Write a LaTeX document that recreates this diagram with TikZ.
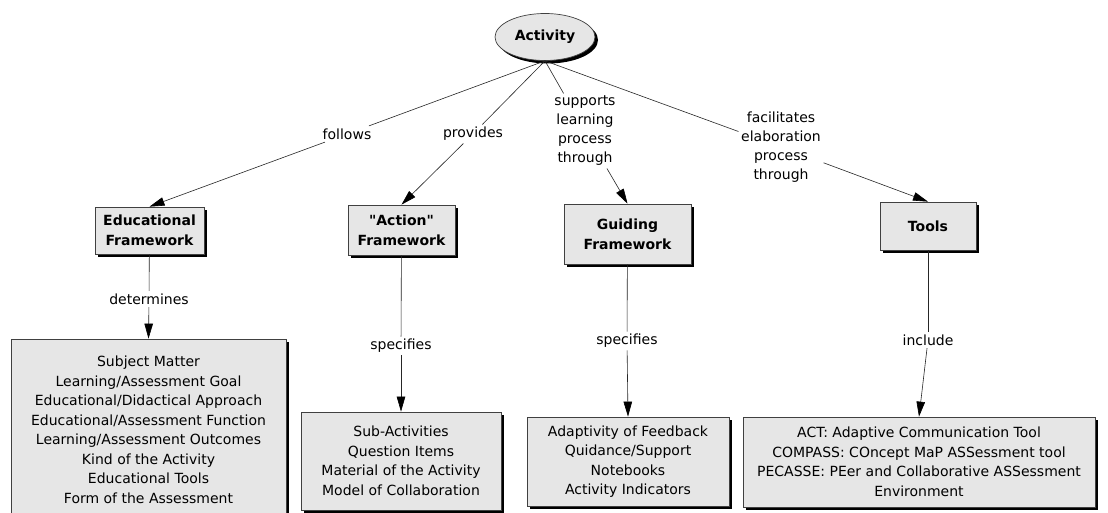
\documentclass[tikz,border=0pt]{standalone}
\usepackage{fontspec}
\setmainfont{DejaVu Sans}[Ligatures=TeXOff]
\usetikzlibrary{shadows,arrows.meta,shapes.geometric}
\definecolor{boxgray}{RGB}{230,230,230}
\begin{document}
\begin{tikzpicture}[x=1pt,y=-1pt,
  shade3/.style={drop shadow={shadow xshift=3pt,shadow yshift=-3pt,opacity=1,fill=black}},
  concept/.style={draw=black!75, line width=0.7pt, fill=boxgray, shade3,
    font=\fontsize{14}{20}\selectfont\bfseries, align=center, inner sep=0pt},
  listbox/.style={draw=black!75, line width=0.7pt, fill=boxgray, shade3,
    font=\fontsize{14}{19.5}\selectfont, align=center, inner sep=0pt},
  lbl/.style={fill=white, inner sep=2.5pt, font=\fontsize{14}{19}\selectfont, align=center},
  link/.style={draw=black!85, line width=0.6pt},
  arr/.style={link, -{Triangle[length=15pt,width=8.5pt,color=black]}}
]
\fill[white] (0,0) rectangle (1108,513);
\useasboundingbox (0,0) rectangle (1108,513);

% concepts
\node[concept, ellipse, minimum width=100pt, minimum height=47pt] (act) at (545,37) {Activity};
\node[concept, minimum width=109pt, minimum height=47pt] (edu) at (149.5,230.5) {Educational\\Framework};
\node[concept, minimum width=107pt, minimum height=50pt] (actfw) at (401.5,230) {"Action"\\Framework};
\node[concept, minimum width=127pt, minimum height=60pt] (guid) at (627.5,234) {Guiding\\Framework};
\node[concept, minimum width=96pt, minimum height=48pt] (tools) at (928,226) {Tools};

% list boxes
\node[listbox, minimum width=275pt, minimum height=182pt] (l1) at (148.5,430) {Subject Matter\\Learning/Assessment Goal\\Educational/Didactical Approach\\Educational/Assessment Function\\Learning/Assessment Outcomes\\Kind of the Activity\\Educational Tools\\Form of the Assessment};
\node[listbox, minimum width=200pt, minimum height=98pt] (l2) at (401,461) {Sub-Activities\\Question Items\\Material of the Activity\\Model of Collaboration};
\node[listbox, minimum width=202pt, minimum height=89pt] (l3) at (628,461.5) {Adaptivity of Feedback\\Quidance/Support\\Notebooks\\Activity Indicators};
\node[listbox, minimum width=352pt, minimum height=90pt] (l4) at (919,462) {ACT: Adaptive Communication Tool\\COMPASS: COncept MaP ASSessment tool\\PECASSE: PEer and Collaborative ASSessment\\Environment};

% link labels
\node[lbl] (follows) at (347,134) {follows};
\node[lbl] (provides) at (473,134) {provides};
\node[lbl] (supports) at (585,131) {supports\\learning\\process\\through};
\node[lbl] (facil) at (781,147) {facilitates\\elaboration\\process\\through};
\node[lbl] (determines) at (149,299) {determines};
\node[lbl] (spec1) at (401,346) {specifies};
\node[lbl] (spec2) at (627,341) {specifies};
\node[lbl] (include) at (928,340) {include};

% connectors
\draw[link] (act.south) -- (follows);
\draw[arr] (follows) -- (edu.north);
\draw[link] (act.south) -- (provides);
\draw[arr] (provides) -- (actfw.north);
\draw[link] (act.south) -- (supports);
\draw[arr] (supports) -- (guid.north);
\draw[link] (act.south) -- (facil);
\draw[arr] (facil) -- (tools.north);
\draw[link] (edu) -- (determines);
\draw[arr] (determines) -- (l1.north);
\draw[link] (actfw) -- (spec1);
\draw[arr] (spec1) -- (l2.north);
\draw[link] (guid) -- (spec2);
\draw[arr] (spec2) -- (l3.north);
\draw[link] (tools) -- (include);
\draw[arr] (include) -- (l4.north);
\end{tikzpicture}
\end{document}
